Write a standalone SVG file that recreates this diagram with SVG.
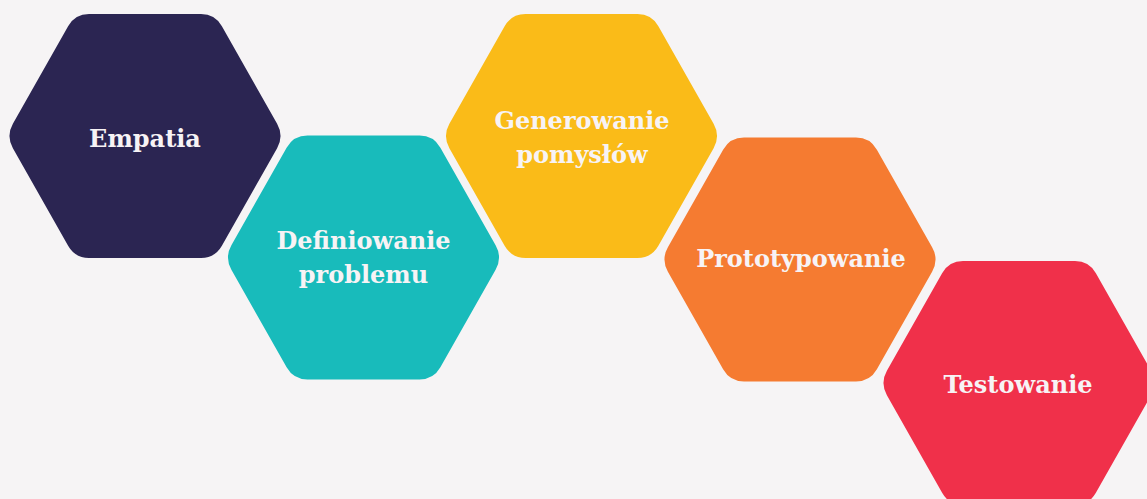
<svg xmlns="http://www.w3.org/2000/svg" xmlns:xlink="http://www.w3.org/1999/xlink" width="1147" height="499" viewBox="0 0 1147 499">
  <style>
    .label { font-family: "DejaVu Serif", "Liberation Serif", serif; font-weight: bold; font-size: 24px; fill: #F7F3F5; text-anchor: middle; }
  </style>
  <defs>
    <path id="hex" d="M-132.11,-12.18 L-76.89,-109.82 Q-70,-122 -56,-122 L56,-122 Q70,-122 76.89,-109.82 L132.11,-12.18 Q139,0 132.11,12.18 L76.89,109.82 Q70,122 56,122 L-56,122 Q-70,122 -76.89,109.82 L-132.11,12.18 Q-139,0 -132.11,-12.18 Z"/>
  </defs>
  <rect width="1147" height="499" fill="#F6F4F5"/>
  <g id="connectors"/>
  <g id="node-empatia">
    <use xlink:href="#hex" href="#hex" transform="translate(145,136)" fill="#2B2552"/>
    <text class="label" x="145" y="147">Empatia</text>
  </g>
  <g id="node-definiowanie">
    <use xlink:href="#hex" href="#hex" transform="translate(363.5,257.5)" fill="#18BBBB"/>
    <text class="label" x="363.5" y="249">Definiowanie</text>
    <text class="label" x="363.5" y="283">problemu</text>
  </g>
  <g id="node-generowanie">
    <use xlink:href="#hex" href="#hex" transform="translate(581.5,136)" fill="#FABB18"/>
    <text class="label" x="582" y="129">Generowanie</text>
    <text class="label" x="582" y="163">pomysłów</text>
  </g>
  <g id="node-prototypowanie">
    <use xlink:href="#hex" href="#hex" transform="translate(800,259.5)" fill="#F57B31"/>
    <text class="label" x="801" y="267">Prototypowanie</text>
  </g>
  <g id="node-testowanie">
    <use xlink:href="#hex" href="#hex" transform="translate(1019,383)" fill="#F0304A"/>
    <text class="label" x="1018" y="393">Testowanie</text>
  </g>
</svg>
